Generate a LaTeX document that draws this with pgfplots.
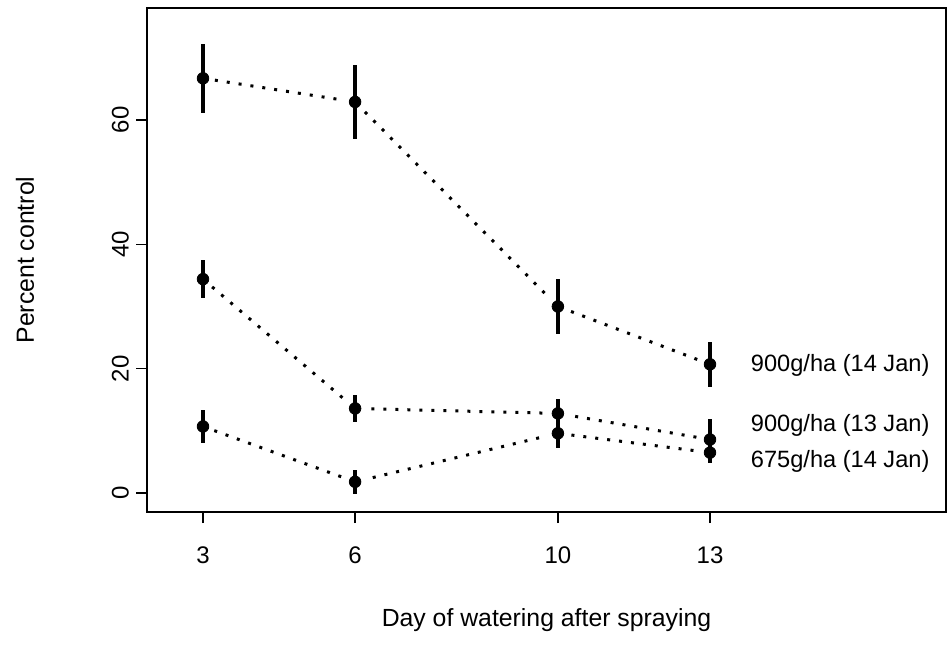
\documentclass[border=0pt]{standalone}
\usepackage{pgfplots}
\pgfplotsset{compat=1.18}
\usepackage{fontspec}
\setmainfont{Liberation Sans}

\pgfplotstableread{
x   y1    e1   y2    e2   y3    e3
3   66.7  5.6  34.4  3.0  10.7  2.7
6   62.9  5.9  13.6  2.2  1.8   1.9
10  30.0  4.4  12.8  2.3  9.6   2.4
13  20.7  3.6  8.6   3.3  6.5   1.7
}\data

\pgfplotsset{
    frame/.style={
        scale only axis,
        width=399.5pt, height=252pt,
        xmin=1.8955, xmax=17.655,
        ymin=-3.056, ymax=78.01,
        clip=false,
    },
    seg/.style={black, line width=1.5pt, dash pattern=on 1.5pt off 4.5pt, no marks},
    halo/.style={white, only marks, mark=*, mark size=5.6pt},
    pts/.style={black, only marks, mark=*, mark size=2.9pt,
        error bars/y dir=both, error bars/y explicit,
        error bars/error mark=none,
        error bars/error bar style={line width=1.8pt, solid}},
}

\begin{document}
\begin{tikzpicture}
% axes and dotted lines
\begin{axis}[
    frame,
    xtick={3,6,10,13},
    ytick={0,20,40,60},
    tick align=outside,
    major tick length=5.5pt,
    tick style={black, line width=0.8pt},
    xtick pos=bottom, ytick pos=left,
    axis line style={line width=1pt},
    /pgf/number format/assume math mode=true,
    ticklabel style={font=\fontsize{12pt}{14pt}\selectfont},
    xticklabel style={yshift=-8.5pt},
    yticklabel style={rotate=90, anchor=south},
    ylabel={Percent control},
    xlabel={Day of watering after spraying},
    every axis y label/.style={at={(axis description cs:-0.1527,0.5)}, rotate=90,
        anchor=center, font=\fontsize{12.4pt}{15pt}\selectfont},
    every axis x label/.style={at={(axis description cs:0.5,-0.214)},
        anchor=center, font=\fontsize{12.4pt}{15pt}\selectfont},
]
\addplot[seg] table[x=x, y=y1] {\data};
\addplot[seg] table[x=x, y=y2] {\data};
\addplot[seg] table[x=x, y=y3] {\data};
\end{axis}
% white gaps round the points
\begin{axis}[frame, hide axis]
\addplot[halo] table[x=x, y=y1] {\data};
\addplot[halo] table[x=x, y=y2] {\data};
\addplot[halo] table[x=x, y=y3] {\data};
\end{axis}
% points, error bars and labels
\begin{axis}[frame, hide axis]
\addplot[pts] table[x=x, y=y1, y error=e1] {\data};
\addplot[pts] table[x=x, y=y2, y error=e2] {\data};
\addplot[pts] table[x=x, y=y3, y error=e3] {\data};
\begin{scope}[font=\fontsize{11.8pt}{14pt}\selectfont]
\node[anchor=west, inner sep=0pt] at (axis cs:13.8,20.6) {900g/ha (14 Jan)};
\node[anchor=west, inner sep=0pt] at (axis cs:13.8,10.8) {900g/ha (13 Jan)};
\node[anchor=west, inner sep=0pt] at (axis cs:13.8,5.1) {675g/ha (14 Jan)};
\end{scope}
\end{axis}
\path (-73.5pt,-70.5pt) rectangle (402pt,256pt);
\end{tikzpicture}
\end{document}
